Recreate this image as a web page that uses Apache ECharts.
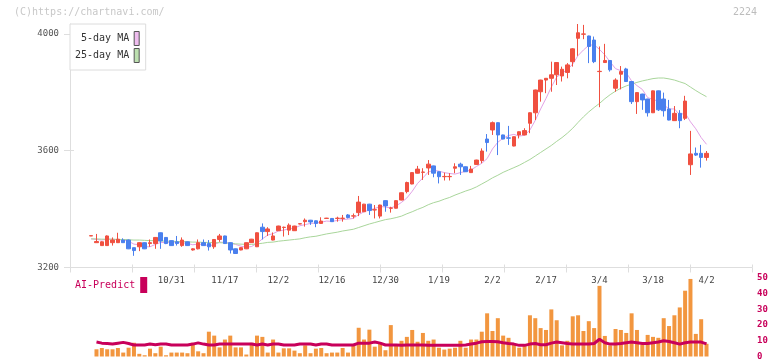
<!DOCTYPE html>
<html>
<head>
<meta charset="utf-8">
<script src="https://cdn.jsdelivr.net/npm/echarts@6/dist/echarts.min.js"></script>
<style>
html,body{margin:0;padding:0;background:#fff;}
#chart{width:772px;height:361px;}
</style>
</head>
<body>
<div id="chart"></div>
<script>
// ---- data (candle index 0..115) ----
const tickAt = [15,25,35,45,55,65,75,85,95,105,115];
const tickLabels = ['10/31','11/17','12/2','12/16','12/30','1/19','2/2','2/17','3/4','3/18','4/2'];
const priceTicks = [3200,3600,4000];

const opens = [3308,3285,3275,3275,3285,3285,3294,3294,3268,3271,
3285,3282,3282,3319,3303,3292,3288,3275,3288,3260,
3264,3285,3282,3271,3296,3308,3285,3264,3260,3264,
3285,3271,3338,3323,3294,3326,3337,3328,3326,3349,
3357,3362,3360,3351,3368,3368,3368,3368,3380,3376,
3388,3391,3417,3397,3376,3429,3403,3403,3431,3460,
3486,3523,3526,3541,3548,3528,3511,3511,3540,3554,
3545,3525,3553,3566,3640,3671,3696,3654,3644,3616,
3654,3654,3694,3730,3802,3842,3848,3860,3856,3868,
3905,3985,3999,3993,3979,3871,3902,3909,3814,3862,
3880,3837,3768,3794,3777,3730,3805,3777,3743,3703,
3728,3711,3552,3591,3591,3577];
const closes = [3309,3289,3288,3308,3294,3297,3285,3264,3258,3285,
3264,3285,3303,3291,3282,3275,3282,3294,3275,3264,
3285,3275,3271,3296,3308,3282,3260,3248,3268,3285,
3297,3319,3323,3332,3308,3342,3338,3345,3342,3350,
3362,3356,3351,3359,3369,3357,3369,3369,3371,3377,
3424,3417,3395,3398,3414,3411,3404,3429,3456,3491,
3525,3537,3527,3554,3523,3511,3512,3512,3545,3545,
3528,3537,3568,3599,3628,3696,3654,3640,3643,3648,
3665,3669,3730,3808,3842,3848,3860,3902,3879,3894,
3949,4004,4000,3957,3905,3872,3909,3877,3842,3871,
3837,3768,3799,3774,3730,3805,3740,3737,3705,3728,
3703,3770,3589,3585,3577,3591];
const lows = [3308,3284,3275,3274,3275,3285,3284,3263,3240,3256,
3263,3271,3264,3264,3280,3274,3275,3271,3274,3258,
3262,3274,3258,3264,3288,3281,3248,3247,3259,3263,
3284,3270,3296,3308,3293,3325,3306,3311,3325,3348,
3340,3346,3338,3350,3367,3356,3357,3357,3368,3368,
3376,3390,3380,3368,3368,3391,3388,3402,3430,3454,
3485,3522,3500,3517,3509,3488,3498,3498,3523,3517,
3527,3524,3552,3557,3597,3654,3585,3639,3620,3615,
3642,3653,3660,3705,3768,3797,3802,3825,3837,3848,
3888,3925,3982,3900,3900,3749,3901,3871,3802,3810,
3836,3760,3726,3740,3717,3729,3736,3717,3704,3702,
3677,3705,3517,3582,3542,3566];
const highs = [3309,3315,3290,3310,3303,3319,3300,3296,3268,3286,
3286,3296,3304,3320,3304,3293,3308,3303,3289,3266,
3296,3296,3294,3297,3315,3309,3286,3265,3269,3286,
3298,3320,3351,3338,3320,3343,3340,3351,3343,3351,
3368,3363,3361,3372,3370,3369,3374,3380,3383,3385,
3445,3418,3418,3414,3415,3430,3408,3430,3457,3494,
3526,3548,3540,3568,3549,3529,3525,3523,3557,3559,
3546,3548,3569,3608,3657,3700,3697,3655,3685,3649,
3666,3677,3731,3809,3843,3849,3905,3903,3888,3900,
3951,4034,4031,3994,3991,3957,3966,3910,3848,3890,
3884,3838,3800,3795,3778,3806,3806,3799,3774,3753,
3739,3788,3668,3611,3620,3599];
const ma5 = [3298,3296,3294,3297,3297,3295,3294,3290,3280,3278,
3271,3271,3279,3286,3285,3287,3287,3285,3282,3278,
3280,3279,3274,3278,3287,3286,3283,3279,3273,3269,
3272,3283,3298,3311,3316,3325,3328,3333,3335,3343,
3347,3351,3352,3355,3359,3358,3361,3364,3366,3368,
3381,3391,3397,3402,3409,3407,3404,3411,3423,3438,
3461,3488,3507,3527,3533,3530,3525,3522,3520,3525,
3529,3534,3546,3557,3573,3606,3629,3643,3652,3656,
3650,3653,3671,3704,3743,3779,3818,3852,3866,3877,
3897,3926,3945,3961,3963,3947,3928,3904,3881,3874,
3867,3839,3823,3810,3782,3775,3770,3757,3743,3743,
3723,3729,3699,3675,3645,3622];
const ma25 = [3298,3298,3297,3297,3297,3296,3296,3295,3294,3294,
3293,3292,3292,3291,3290,3290,3289,3289,3288,3287,
3287,3286,3286,3285,3285,3284,3283,3281,3280,3279,
3279,3281,3283,3286,3287,3290,3292,3294,3296,3298,
3302,3305,3307,3311,3315,3318,3321,3325,3328,3331,
3337,3343,3349,3354,3359,3364,3367,3371,3376,3384,
3391,3399,3406,3415,3422,3427,3434,3440,3448,3455,
3462,3468,3476,3486,3496,3507,3516,3526,3534,3542,
3550,3560,3570,3582,3594,3606,3618,3632,3645,3660,
3677,3697,3716,3733,3748,3762,3778,3792,3804,3814,
3822,3828,3834,3839,3843,3847,3849,3849,3846,3842,
3836,3830,3818,3806,3795,3785];
const volume = [null,4.6,5.4,4.6,4.6,5.4,2.5,5.6,8.75,1.7,
0.8,5,2.1,6.25,0.8,2.5,2.5,2.5,2.1,8.75,
3.3,2.1,15.8,13.3,5.8,10.8,13.3,5.8,5.8,1.25,
8.75,13.3,12.5,2.5,10.8,2.5,5.2,5.2,3.75,2.1,
7.1,2.1,5,5.4,2.1,2.5,2.5,5.4,2.5,7.1,
18.3,10.8,17.1,6.25,9,4,20,7.1,10,12.5,
16.9,9.4,15,10,10.8,5.6,4.4,5,5.6,10,
5.6,10.8,10.8,15.8,27.5,16.25,24.4,13.3,11.9,7.5,
5.6,7.1,26.25,24.4,18.1,16.9,30,23.1,7.1,10,
25.6,26.25,16.25,22.5,18.1,45,13.1,7.1,17.5,16.9,
15,27.5,16.9,7.5,13.75,12.5,11.9,24.4,19.4,26.25,
31.25,41.9,49.4,14.4,23.75,8.1];
const aiPredict = [null,9.2,8.5,8.3,7.9,8.5,9.0,8.3,7.3,7.3,
7.3,7.9,7.5,7.9,7.9,7.3,7.3,7.3,7.3,7.9,
8.7,7.9,7.3,7.3,7.9,7.9,7.9,7.9,7.9,7.9,
7.9,7.3,7.9,7.3,7.9,7.9,7.3,7.3,7.3,7.9,
7.9,7.9,7.3,7.9,7.9,7.3,7.3,7.3,7.3,7.3,
8.5,8.5,8.5,9.2,8.5,7.3,7.3,7.3,7.1,7.3,
7.3,7.3,7.3,7.1,7.1,7.1,7.1,7.1,7.1,7.1,
7.3,7.9,8.5,9.4,9.6,9.6,9.4,8.8,8.3,7.9,
7.1,7.1,7.9,8.3,7.5,7.5,8.5,9.2,8.8,8.3,
7.9,7.9,7.9,7.9,8.3,11.0,8.8,7.9,7.9,8.3,
8.8,9.2,8.8,8.3,8.3,8.8,9.2,10.0,9.6,8.8,
7.9,8.8,9.2,9.2,9.2,8.0];

// ---- build ----
const MONO = 'DejaVu Sans Mono';
const candleData = opens.map((o, i) => [i, o, closes[i], lows[i], highs[i]]);
const pair = arr => arr.map((v, i) => [i, v]);
const X_MIN = -3.95, X_MAX = 123.5;
const lineAxisStyle = { show: true, onZero: false, lineStyle: { color: '#dedede', width: 1 } };

const chart = echarts.init(document.getElementById('chart'), null, { renderer: 'canvas' });
chart.setOption({
  animation: false,
  backgroundColor: '#fff',
  grid: [
    { left: 70, right: 20, top: 24, bottom: 93.5 },
    { left: 70, right: 20, top: 278, bottom: 3 }
  ],
  legend: [
    {
      left: 70, top: 24, orient: 'vertical', align: 'right',
      backgroundColor: '#fff', borderColor: '#dcdcdc', borderWidth: 1,
      padding: [7, 6, 7, 5], itemGap: 2, itemWidth: 5, itemHeight: 14,
      selectedMode: false,
      formatter: n => (n.length < 9 ? ' ' + n : n),
      textStyle: { fontFamily: MONO, fontSize: 10, color: '#333' },
      data: [
        { name: '5-day MA', icon: 'rect', itemStyle: { color: '#efbdef', borderColor: '#555', borderWidth: 1 } },
        { name: '25-day MA', icon: 'rect', itemStyle: { color: '#bde0b0', borderColor: '#555', borderWidth: 1 } }
      ]
    },
    {
      left: 75, top: 277, align: 'right', padding: 0,
      itemWidth: 7, itemHeight: 16, selectedMode: false,
      textStyle: { fontFamily: MONO, fontSize: 10, color: '#c8005a' },
      data: [{ name: 'AI-Predict', icon: 'rect', itemStyle: { color: '#c8005a', borderWidth: 0 } }]
    }
  ],
  graphic: [
    { type: 'text', left: 14, top: 7, style: { text: '(C)https://chartnavi.com/', font: '10px ' + MONO, fill: '#c8c8c8' } },
    { type: 'text', right: 15, top: 7, style: { text: '2224', font: '10px ' + MONO, fill: '#bdbdbd' } }
  ],
  xAxis: [
    {
      gridIndex: 0, type: 'value', min: X_MIN, max: X_MAX, position: 'bottom',
      axisLine: lineAxisStyle, axisTick: { show: false }, splitLine: { show: false },
      axisLabel: {
        customValues: tickAt, margin: 9,
        formatter: v => { const k = tickAt.indexOf(Math.round(v)); return k >= 0 ? tickLabels[k] : ''; },
        fontFamily: MONO, fontSize: 9, color: '#444'
      }
    },
    {
      gridIndex: 0, type: 'value', min: 0, max: 11, interval: 1, position: 'bottom',
      axisLine: { show: false, onZero: false }, axisLabel: { show: false }, splitLine: { show: false },
      axisTick: { show: true, length: 5, lineStyle: { color: '#dedede', width: 1 } }
    },
    {
      gridIndex: 0, type: 'value', min: 0, max: 11, interval: 1, position: 'bottom',
      axisLine: { show: false, onZero: false }, axisLabel: { show: false }, splitLine: { show: false },
      axisTick: { show: true, inside: true, length: 3, lineStyle: { color: '#dedede', width: 1 } }
    },
    {
      gridIndex: 1, type: 'value', min: X_MIN, max: X_MAX, show: false,
      axisLine: { onZero: false }, splitLine: { show: false }
    }
  ],
  yAxis: [
    {
      gridIndex: 0, type: 'value', min: 3200, max: 4034, position: 'left',
      axisLine: lineAxisStyle, splitLine: { show: false },
      axisTick: { show: true, customValues: priceTicks, length: 6, lineStyle: { color: '#dedede' } },
      axisLabel: { customValues: priceTicks, margin: 11, formatter: v => String(v), fontFamily: MONO, fontSize: 9, color: '#555' }
    },
    {
      gridIndex: 0, type: 'value', min: 3200, max: 4034, position: 'left',
      axisLine: { show: false, onZero: false }, splitLine: { show: false }, axisLabel: { show: false },
      axisTick: { show: true, inside: true, customValues: priceTicks, length: 4, lineStyle: { color: '#dedede' } }
    },
    {
      gridIndex: 1, type: 'value', min: 0, max: 50, interval: 10, position: 'right',
      axisLine: { show: false, onZero: false }, axisTick: { show: false }, splitLine: { show: false },
      axisLabel: { margin: 5, fontFamily: MONO, fontSize: 9, fontWeight: 'bold', color: '#c8005a' }
    }
  ],
  series: [
    {
      name: '5-day MA', type: 'line', xAxisIndex: 0, yAxisIndex: 0, data: pair(ma5),
      symbol: 'none', lineStyle: { color: '#e2a2e6', width: 1 }, itemStyle: { color: '#efbdef' }, z: 2
    },
    {
      name: '25-day MA', type: 'line', xAxisIndex: 0, yAxisIndex: 0, data: pair(ma25),
      symbol: 'none', lineStyle: { color: '#a9d69b', width: 1 }, itemStyle: { color: '#bde0b0' }, z: 2
    },
    {
      type: 'candlestick', xAxisIndex: 0, yAxisIndex: 0, data: candleData,
      encode: { x: 0, y: [1, 2, 3, 4] }, barWidth: 4, z: 3,
      itemStyle: { color: '#f05040', color0: '#4a80ee', borderColor: '#f05040', borderColor0: '#4a80ee', borderWidth: 1 }
    },
    {
      name: 'Volume', type: 'bar', xAxisIndex: 3, yAxisIndex: 2, data: pair(volume),
      barWidth: 4, itemStyle: { color: '#f2963f' }
    },
    {
      name: 'AI-Predict', type: 'line', xAxisIndex: 3, yAxisIndex: 2, data: pair(aiPredict),
      symbol: 'none', connectNulls: false, lineStyle: { color: '#c8005a', width: 3 }, itemStyle: { color: '#c8005a' }, z: 3
    }
  ]
});
</script>
</body>
</html>
